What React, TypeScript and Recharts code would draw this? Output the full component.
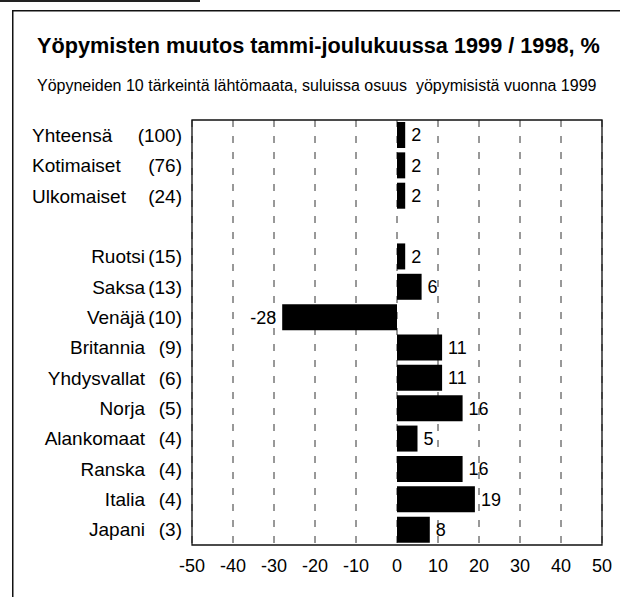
import React from 'react';
import { BarChart, Bar, XAxis, YAxis, CartesianGrid, ReferenceArea, LabelList } from 'recharts';

const CATEGORIES = [
  'Yhteensä', 'Kotimaiset', 'Ulkomaiset', '',
  'Ruotsi', 'Saksa', 'Venäjä', 'Britannia', 'Yhdysvallat',
  'Norja', 'Alankomaat', 'Ranska', 'Italia', 'Japani'
];
const SHARES = ['100', '76', '24', '', '15', '13', '10', '9', '6', '5', '4', '4', '4', '3'];
const CHANGES: (number | null)[] = [2, 2, 2, null, 2, 6, -28, 11, 11, 16, 5, 16, 19, 8];
const X_TICKS = [-50, -40, -30, -20, -10, 0, 10, 20, 30, 40, 50];

const TITLE = 'Yöpymisten muutos tammi-joulukuussa 1999 / 1998, %';
const SUBTITLE = 'Yöpyneiden 10 tärkeintä lähtömaata, suluissa osuus  yöpymisistä vuonna 1999';

const FONT = '"Liberation Sans", Arial, sans-serif';

const data = CATEGORIES.map((name, i) => ({ name, share: SHARES[i], value: CHANGES[i] }));

const CategoryTick = (props: any) => {
  const { y, payload } = props;
  const i = payload.index;
  if (!CATEGORIES[i]) return null;
  const summary = i < 3;
  return (
    <g fontFamily={FONT} fontSize={19} fill="#000">
      <text x={summary ? 32 : 145} y={y} dy="0.35em" textAnchor={summary ? 'start' : 'end'}>
        {CATEGORIES[i]}
      </text>
      <text x={182} y={y} dy="0.35em" textAnchor="end">({SHARES[i]})</text>
    </g>
  );
};

const ValueLabel = (props: any) => {
  const { x, y, width, height, value } = props;
  if (value == null) return null;
  const neg = value < 0;
  return (
    <text
      x={neg ? Math.min(x, x + width) - 6 : x + width + 6}
      y={y + height / 2}
      dy="0.36em"
      textAnchor={neg ? 'end' : 'start'}
      fontFamily={FONT}
      fontSize={18}
      fill="#000"
    >
      {value}
    </text>
  );
};

export default function App() {
  return (
    <div style={{ position: 'absolute', left: 0, top: 0, width: 620, height: 597, background: '#fff', overflow: 'hidden' }}>
      <div style={{ position: 'absolute', left: 37, top: 33, fontFamily: FONT, fontWeight: 'bold', fontSize: 21.7, whiteSpace: 'pre', lineHeight: '26px' }}>
        {TITLE}
      </div>
      <div style={{ position: 'absolute', left: 37, top: 75, fontFamily: FONT, fontSize: 16, whiteSpace: 'pre', lineHeight: '22px' }}>
        {SUBTITLE}
      </div>
      <div style={{ position: 'absolute', left: 0, top: 0 }}>
        <BarChart
          width={620}
          height={597}
          data={data}
          layout="vertical"
          margin={{ top: 120, right: 18, bottom: 22, left: 0 }}
          barSize={26}
        >
          <CartesianGrid horizontal={false} vertical stroke="#333" strokeDasharray="7 9" />
          <XAxis
            type="number"
            domain={[-50, 50]}
            ticks={X_TICKS}
            interval={0}
            axisLine={false}
            tickLine={false}
            tickSize={0}
            tickMargin={14}
            height={30}
            tick={{ fontFamily: FONT, fontSize: 18, fill: '#000' }}
          />
          <YAxis
            type="category"
            dataKey="name"
            width={192}
            axisLine={false}
            tickLine={false}
            interval={0}
            tick={<CategoryTick />}
          />
          <ReferenceArea x1={-50} x2={50} fill="none" stroke="#111" strokeWidth={1.3} ifOverflow="visible" />
          <Bar dataKey="value" fill="#000" isAnimationActive={false}>
            <LabelList dataKey="value" content={<ValueLabel />} />
          </Bar>
        </BarChart>
      </div>
      {/* outer frame of the printed page */}
      <svg width={620} height={597} style={{ position: 'absolute', left: 0, top: 0, pointerEvents: 'none' }}>
        <rect x={0} y={0} width={200} height={2} fill="#222" />
        <rect x={12} y={10} width={608} height={1.5} fill="#111" />
        <rect x={12} y={10} width={1.5} height={587} fill="#111" />
      </svg>
    </div>
  );
}
